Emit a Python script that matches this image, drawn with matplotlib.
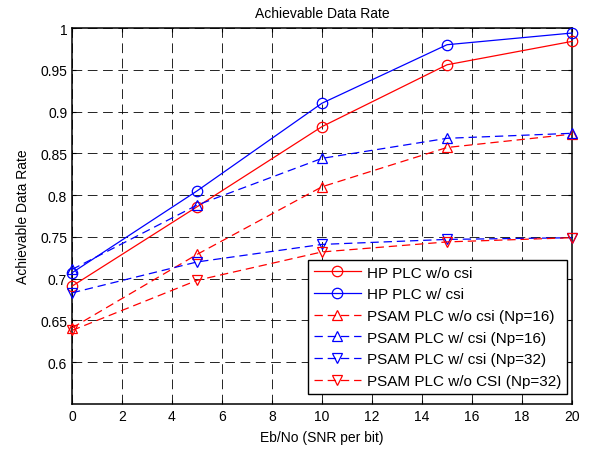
import matplotlib
matplotlib.use("Agg")
import matplotlib.pyplot as plt

plt.rcParams['font.family'] = ['Liberation Sans', 'DejaVu Sans']
plt.rcParams['lines.scale_dashes'] = False

snr = [0, 5, 10, 15, 20]
hp_wo_csi = [0.691, 0.786, 0.882, 0.956, 0.984]
hp_w_csi = [0.707, 0.805, 0.910, 0.980, 0.994]
psam_wo_16 = [0.641, 0.729, 0.810, 0.857, 0.873]
psam_w_16 = [0.711, 0.788, 0.844, 0.868, 0.874]
psam_w_32 = [0.683, 0.720, 0.741, 0.747, 0.749]
psam_wo_32 = [0.638, 0.698, 0.732, 0.744, 0.749]

labels = ["HP PLC w/o csi", "HP PLC w/ csi", "PSAM PLC w/o csi (Np=16)",
          "PSAM PLC w/ csi (Np=16)", "PSAM PLC w/ csi (Np=32)", "PSAM PLC w/o CSI (Np=32)"]
xticks = list(range(0, 21, 2))
yticks = [0.6, 0.65, 0.7, 0.75, 0.8, 0.85, 0.9, 0.95, 1]
yticklabels = ["0.6", "0.65", "0.7", "0.75", "0.8", "0.85", "0.9", "0.95", "1"]

fig = plt.figure(figsize=(5.93, 4.52), dpi=100)
ax = fig.add_axes([0.1214, 0.104, 0.8432, 0.8318])

dash = (0, (6, 3.5))
series = [
    (hp_wo_csi, 'red', '-', 'o'),
    (hp_w_csi, 'blue', '-', 'o'),
    (psam_wo_16, 'red', dash, '^'),
    (psam_w_16, 'blue', dash, '^'),
    (psam_w_32, 'blue', dash, 'v'),
    (psam_wo_32, 'red', dash, 'v'),
]
for (vals, c, ls, m), lab in zip(series, labels):
    ax.plot(snr, vals, color=c, linestyle=ls, marker=m, markersize=7.5,
            markerfacecolor='none', markeredgecolor=c, linewidth=0.9,
            markeredgewidth=0.9, label=lab, clip_on=False, zorder=3)

ax.set_xlim(0, 20)
ax.set_ylim(0.55, 1)
ax.set_xticks(xticks)
ax.set_yticks(yticks)
ax.set_yticklabels(yticklabels)
ax.grid(True, color='black', linestyle=(0, (7, 4)), linewidth=0.6)
ax.tick_params(direction='in', top=True, right=True, labelsize=10, length=3, width=0.8)
for s in ax.spines.values():
    s.set_linewidth(1.1)
ax.set_xlabel("Eb/No (SNR per bit)", fontsize=10, labelpad=5)
ax.set_ylabel("Achievable Data Rate", fontsize=10, labelpad=7)
ax.set_title("Achievable Data Rate", fontsize=10, pad=8)

leg = ax.legend(loc='lower right', bbox_to_anchor=(0.99, 0.0266), borderaxespad=0,
                fontsize=11, fancybox=False, edgecolor='black', framealpha=1,
                handlelength=3.1, handletextpad=0.35, labelspacing=0.5,
                borderpad=0.4)
leg.get_frame().set_linewidth(1.0)
leg.set_zorder(5)

fig.savefig("out.png", dpi=100)
